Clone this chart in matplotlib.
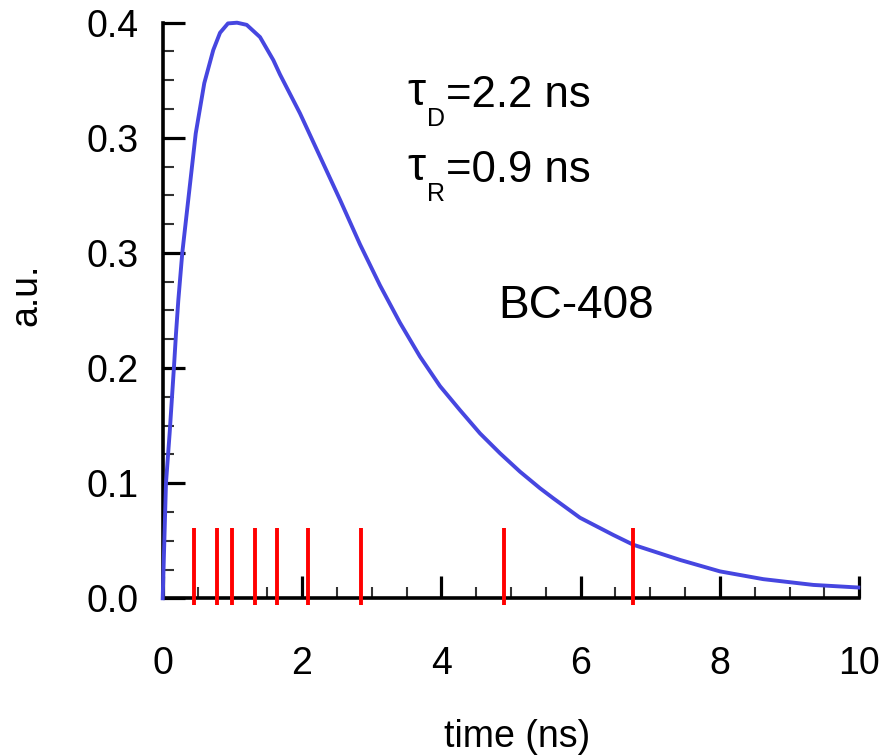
import matplotlib.pyplot as plt
from matplotlib.ticker import MultipleLocator

plt.rcParams['font.family'] = ['Liberation Sans', 'DejaVu Sans']

# pulse shape (time in ns, amplitude in a.u.)
t_curve = [0.0, 0.047, 0.10, 0.162, 0.191, 0.224, 0.281, 0.367, 0.474, 0.597,
           0.726, 0.823, 0.937, 1.067, 1.206, 1.397, 1.588, 1.684, 1.971, 2.258,
           2.545, 2.832, 3.119, 3.406, 3.693, 3.980, 4.267, 4.555, 4.842, 5.129,
           5.416, 5.607, 5.99, 6.469, 6.756, 7.431, 8.0, 8.622, 9.34, 9.986]
v_curve = [0.0, 0.080, 0.115, 0.161, 0.184, 0.207, 0.240, 0.277, 0.323, 0.358,
           0.381, 0.393, 0.3995, 0.4, 0.3985, 0.390, 0.374, 0.364, 0.337, 0.307,
           0.277, 0.246, 0.2175, 0.1915, 0.168, 0.1475, 0.1308, 0.1146, 0.1008,
           0.0880, 0.0765, 0.0695, 0.0560, 0.0440, 0.0372, 0.0266, 0.0187,
           0.0133, 0.0093, 0.0075]

# red photon arrival markers
marker_times = [0.454, 0.784, 0.999, 1.325, 1.645, 2.086, 2.842, 4.904, 6.747]
marker_low, marker_high = -0.0047, 0.049

y_tick_vals = [0.0, 0.08, 0.16, 0.24, 0.32, 0.40]
y_tick_labels = ['0.0', '0.1', '0.2', '0.3', '0.3', '0.4']
x_tick_vals = [0, 2, 4, 6, 8, 10]

W, H = 891, 755
fig = plt.figure(figsize=(W / 100, H / 100), dpi=100)
ax = fig.add_axes([162.7 / W, 1 - 598.3 / H, 696.6 / W, 575.6 / H])

ax.plot(t_curve, v_curve, color='#4646e0', lw=2.8, clip_on=False, zorder=3,
        solid_joinstyle='round')
ax.vlines(marker_times, marker_low, marker_high, color='#ff0000', lw=2.8,
          clip_on=False, zorder=4)

ax.set_xlim(0, 10)
ax.set_ylim(0, 0.4)
ax.set_xticks(x_tick_vals)
ax.set_yticks(y_tick_vals, y_tick_labels)
ax.xaxis.set_minor_locator(MultipleLocator(0.5))
ax.yaxis.set_minor_locator(MultipleLocator(0.02))

for s in ['top', 'right']:
    ax.spines[s].set_visible(False)
for s in ['left', 'bottom']:
    ax.spines[s].set_linewidth(2.6)

ax.tick_params(which='major', direction='in', length=15.5, width=2.3,
               labelsize=27)
ax.tick_params(which='minor', direction='in', length=8, width=1.5,
               color='#333333')
ax.tick_params(axis='x', which='major', pad=34)
ax.tick_params(axis='y', which='major', pad=17)

ax.set_xlabel('time (ns)', fontsize=27, va='center')
ax.xaxis.set_label_coords((517 - 162.7) / 696.6, (598.3 - 737) / 575.6)
ax.set_ylabel('a.u.', fontsize=27, va='center')
ax.yaxis.set_label_coords((26 - 162.7) / 696.6, (598.3 - 295) / 575.6)


def px(x, y):
    return x / W, 1 - y / H


# tau annotations
for row, (sub, val) in enumerate([('D', '=2.2 ns'), ('R', '=0.9 ns')]):
    dy = row * 75
    fig.text(*px(416, 105 + dy), '\u03c4', fontsize=33, ha='center',
             va='baseline')
    fig.text(*px(436, 125.7 + dy), sub, fontsize=18, ha='center',
             va='baseline')
    fig.text(*px(446, 106.7 + dy), val, fontsize=31.5, ha='left',
             va='baseline')

fig.text(*px(576, 318), 'BC-408', fontsize=33, ha='center', va='baseline')

fig.savefig('out.png', dpi=100)
